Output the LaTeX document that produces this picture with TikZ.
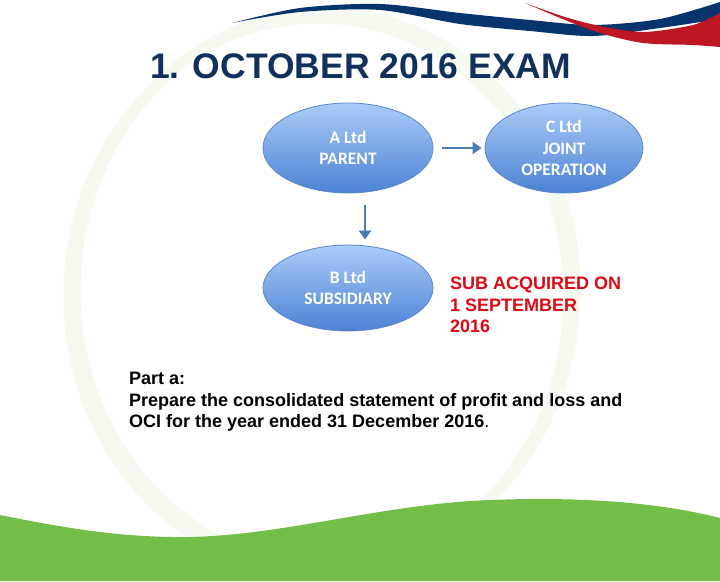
\documentclass[tikz,border=0pt]{standalone}
\usepackage{fontspec}
\setmainfont{Liberation Sans}
\newfontfamily\calibfont{Carlito}
\usetikzlibrary{shapes.geometric,arrows.meta}
\definecolor{titlenavy}{RGB}{18,48,92}
\definecolor{swooshblue}{RGB}{8,52,110}
\definecolor{swooshred}{RGB}{190,22,34}
\definecolor{ringgreen}{RGB}{245,250,241}
\definecolor{wavegreen}{RGB}{115,190,72}
\definecolor{elltop}{RGB}{170,204,248}
\definecolor{ellbot}{RGB}{76,130,212}
\definecolor{ellline}{RGB}{95,135,200}
\definecolor{arrowblue}{RGB}{74,124,184}
\definecolor{notered}{RGB}{220,10,20}
\tikzset{
  entity/.style={ellipse, draw=ellline, line width=0.8pt, top color=elltop, bottom color=ellbot,
    text=white, font=\calibfont\bfseries\fontsize{17.5}{21.5}\selectfont, align=center, inner sep=0pt},
  linkarrow/.style={draw=arrowblue, line width=2.6pt, -{Triangle[length=9pt,width=12pt]}},
  bodytext/.style={anchor=north west, inner sep=0pt, align=left, font=\bfseries\fontsize{18}{21.5}\selectfont},
}
\begin{document}
\begin{tikzpicture}[x=1pt,y=-1pt]
\fill[white] (0,0) rectangle (720,581);
\useasboundingbox (0,0) rectangle (720,581);
\begin{scope}
\clip (0,0) rectangle (720,581);
% faint background ring
\draw[ringgreen, line width=11pt] (325,290) ellipse [x radius=250pt, y radius=277pt];
\draw[ringgreen, line width=9pt] (318,296) ellipse [x radius=250pt, y radius=277pt];
% top swooshes
\fill[swooshblue] plot[smooth] coordinates {(232,23) (300,8) (380,4) (460,13) (530,20) (593,25) (660,19) (720,2)}
  -- plot[smooth] coordinates {(720,19) (660,28) (593,36) (530,31) (460,24) (380,10) (300,12) (232,23)} -- cycle;
\fill[swooshred] plot[smooth] coordinates {(525,3) (565,17) (600,26) (643,32) (693,25) (720,13)}
  -- plot[smooth] coordinates {(720,47) (693,45) (643,43) (600,33) (565,20) (525,3)} -- cycle;
% bottom green wave
\fill[wavegreen] (0,515) .. controls (60,527) and (120,538) .. (190,537)
  .. controls (280,535) and (370,508) .. (470,501)
  .. controls (560,496) and (650,500) .. (720,518) -- (720,581) -- (0,581) -- cycle;
\end{scope}

% title
\node[anchor=base west, inner sep=0pt, text=titlenavy, font=\bfseries\fontsize{35.5}{40}\selectfont] (title) at (150,78) {1. OCTOBER 2016 EXAM};

% entities
\node[entity, minimum width=170pt, minimum height=90pt] (A) at (348,148) {A Ltd\\PARENT};
\node[entity, minimum width=158pt, minimum height=90pt] (C) at (564,148) {C Ltd\\JOINT\\OPERATION};
\node[entity, minimum width=170pt, minimum height=86pt] (B) at (348,288) {B Ltd\\SUBSIDIARY};

% connectors
\draw[linkarrow, shorten <=9pt, shorten >=3pt] (A) -- (C);
\draw[linkarrow, shorten <=12pt, shorten >=5pt] ([xshift=17pt]A.south) -- ([xshift=17pt]B.north);

% notes
\node[bodytext, text=notered] (note) at (450,277) {SUB ACQUIRED ON\\1 SEPTEMBER\\2016};
\node[bodytext, text=black] (parta) at (129,372) {Part a:\\Prepare the consolidated statement of profit and loss and\\OCI for the year ended 31 December 2016{\mdseries .}};
\end{tikzpicture}
\end{document}
